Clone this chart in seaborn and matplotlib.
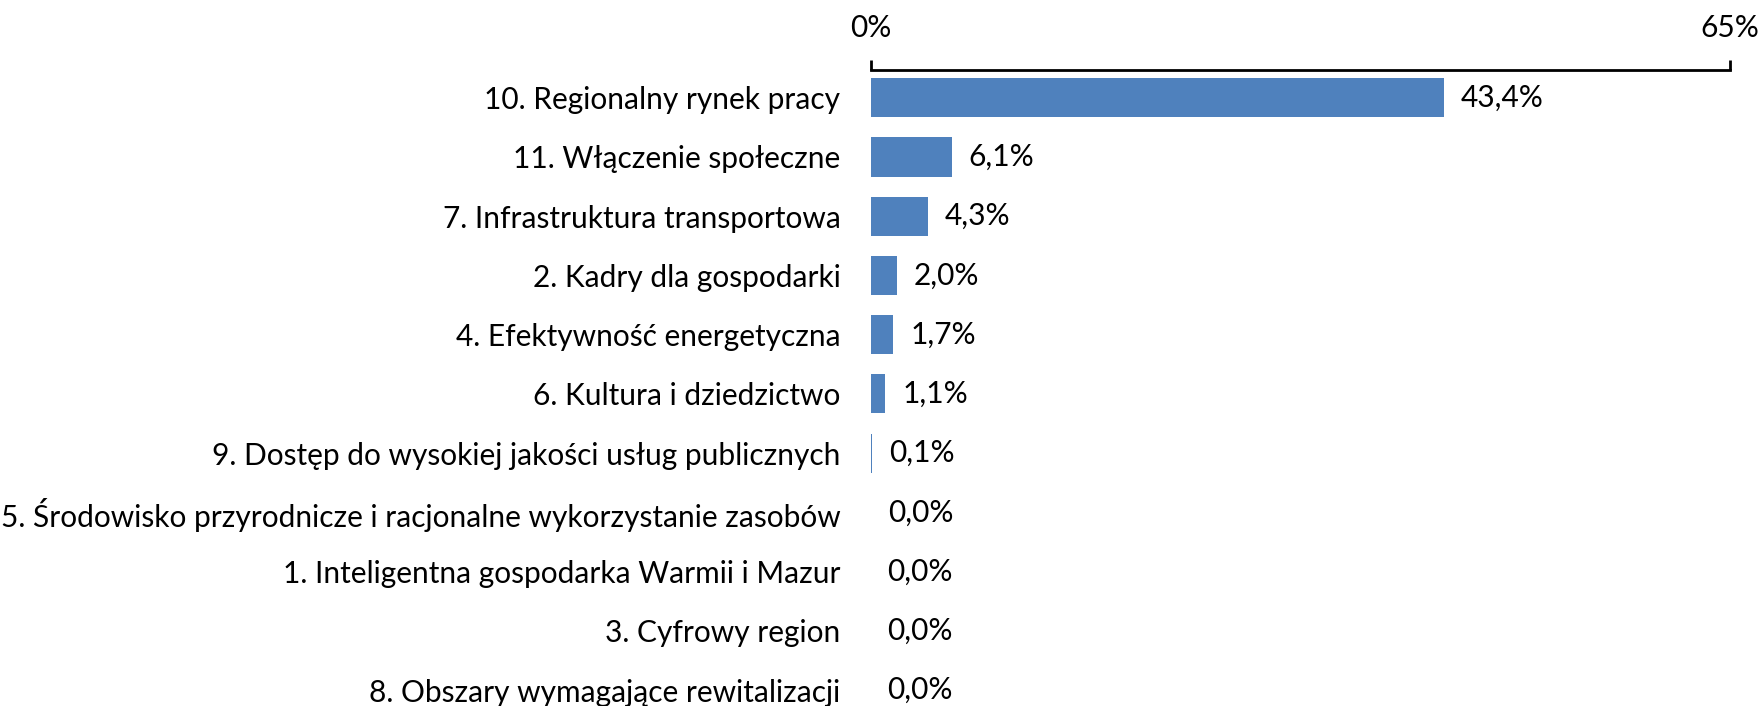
import matplotlib
matplotlib.use("Agg")
import matplotlib.pyplot as plt
import seaborn as sns
import pandas as pd

categories = [
    "10. Regionalny rynek pracy",
    "11. Włączenie społeczne",
    "7. Infrastruktura transportowa",
    "2. Kadry dla gospodarki",
    "4. Efektywność energetyczna",
    "6. Kultura i dziedzictwo",
    "9. Dostęp do wysokiej jakości usług publicznych",
    "5. Środowisko przyrodnicze i racjonalne wykorzystanie zasobów",
    "1. Inteligentna gospodarka Warmii i Mazur",
    "3. Cyfrowy region",
    "8. Obszary wymagające rewitalizacji",
]
values = [43.4, 6.1, 4.3, 2.0, 1.7, 1.1, 0.1, 0.04, 0.0, 0.0, 0.0]
xticks = [0, 65]
xticklabels = ["0%", "65%"]

sns.set_theme(style="white")
plt.rcParams["font.family"] = ["Lato", "DejaVu Sans"]
FS = 21.5

df = pd.DataFrame({"cat": categories, "val": values})

fig = plt.figure(figsize=(17.62, 7.06), dpi=100)
ax = fig.add_axes([0.4943, -0.017, 0.4875, 0.918])
sns.barplot(data=df, x="val", y="cat", orient="h", color="#4F81BD",
            saturation=1, width=0.66, linewidth=0, ax=ax)

ax.set_xlim(0, 65)
ax.set_ylim(len(categories) - 0.53, -0.47)
ax.xaxis.tick_top()
ax.set_xticks(xticks)
ax.set_xticklabels(xticklabels, fontsize=FS)
ax.tick_params(axis="x", direction="out", length=7, width=2, color="black", pad=13)
ax.tick_params(axis="y", length=0, pad=22, labelsize=FS)
for lbl in ax.get_yticklabels() + ax.get_xticklabels():
    lbl.set_color("black")
ax.set_xlabel("")
ax.set_ylabel("")
for s in ["left", "right", "bottom"]:
    ax.spines[s].set_visible(False)
ax.spines["top"].set_linewidth(2)
ax.spines["top"].set_color("black")

labels = [("%.1f" % v).replace(".", ",") + "%" for v in values]
texts = ax.bar_label(ax.containers[0], labels=labels, padding=12, fontsize=FS, color="black")
for t in texts:
    t.set_va("center")

fig.savefig("out.png", dpi=100)
